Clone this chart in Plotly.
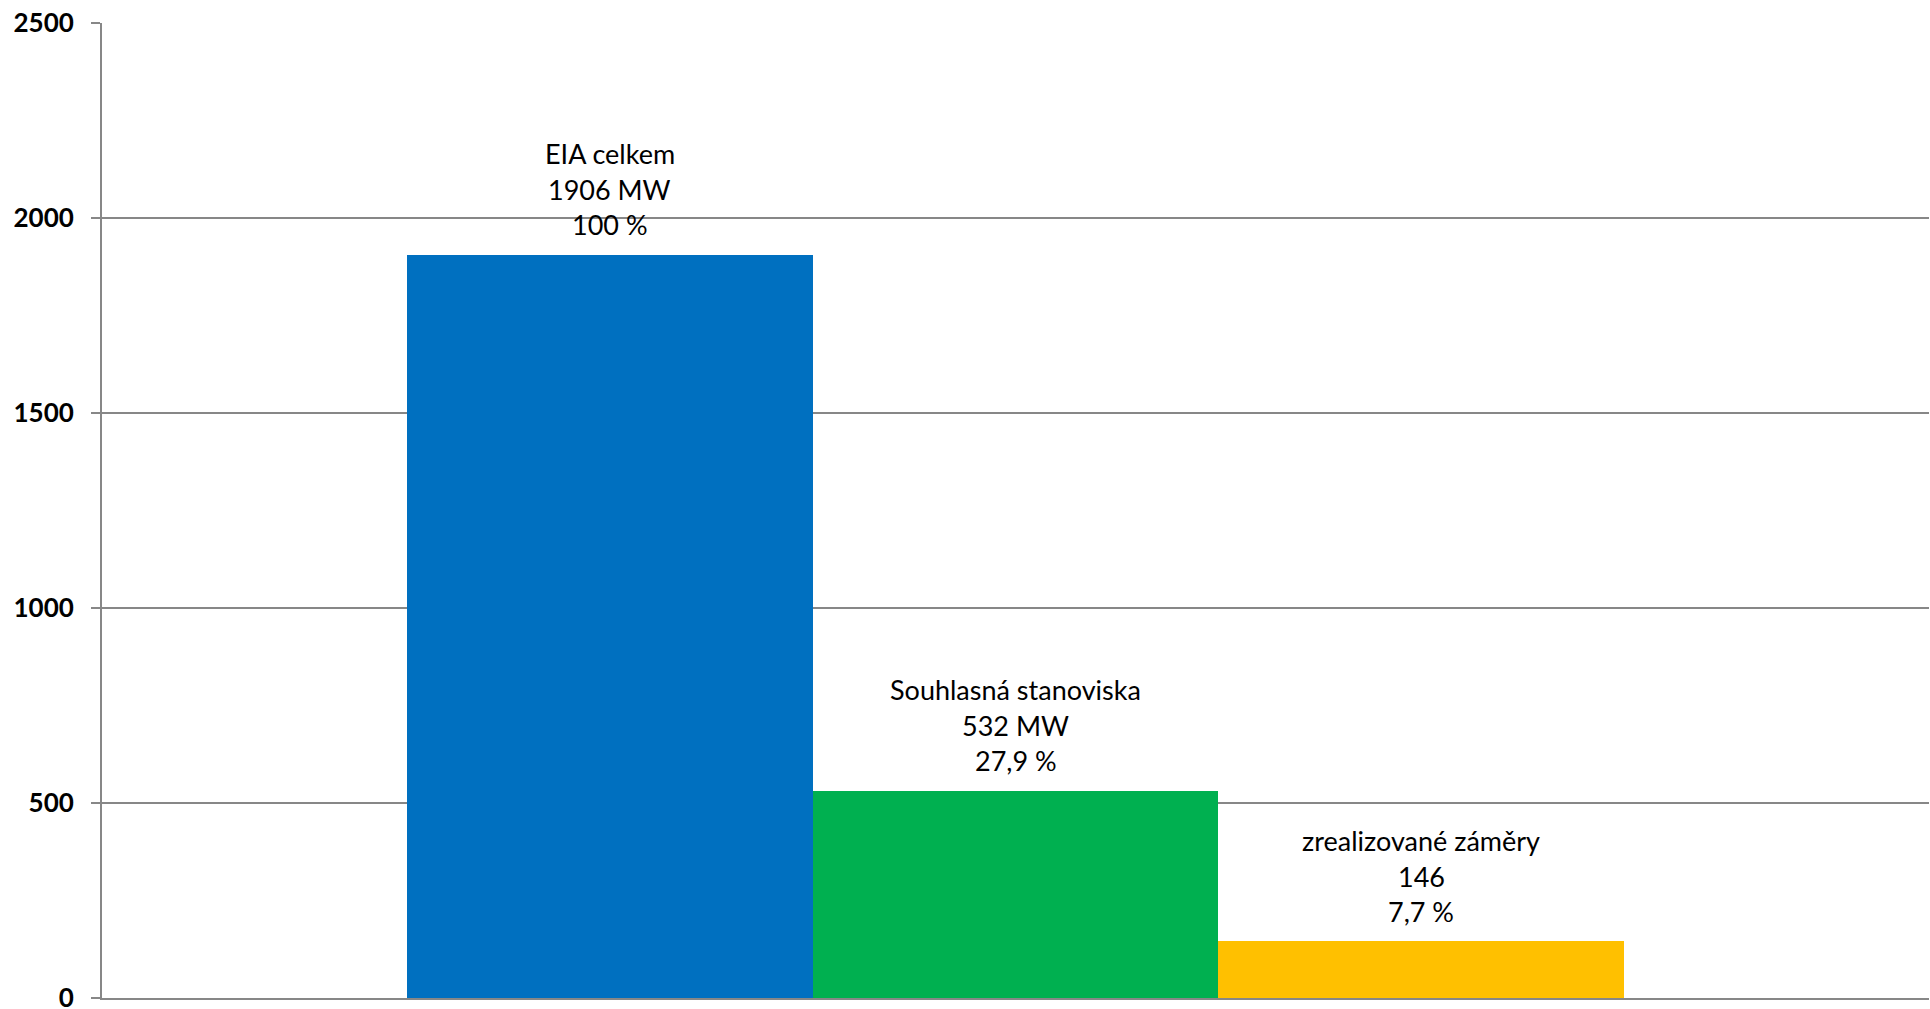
import plotly.graph_objects as go

# Installed capacity (MW) at each stage of the EIA process
categories = ["EIA celkem", "Souhlasná stanoviska", "zrealizované záměry"]
capacity_mw = [1906, 532, 146]
value_labels = ["1906 MW", "532 MW", "146"]
share_labels = ["100 %", "27,9 %", "7,7 %"]
bar_colors = ["#0070C0", "#00B050", "#FFC000"]

y_ticks = [0, 500, 1000, 1500, 2000, 2500]

GRID = "#878787"
LABEL_FONT = dict(family="Lato", size=27, color="#000000")

fig = go.Figure()
fig.add_trace(
    go.Bar(
        x=categories,
        y=capacity_mw,
        marker=dict(color=bar_colors, line=dict(width=0)),
        width=1.0,
        hoverinfo="x+y",
        showlegend=False,
    )
)

# Three-line data labels stacked above each bar
line_offsets = [101, 65, 30]
for cat, val, vlab, slab in zip(categories, capacity_mw, value_labels, share_labels):
    for text, off in zip([cat, vlab, slab], line_offsets):
        fig.add_annotation(
            x=cat,
            y=val,
            xref="x",
            yref="y",
            text=text,
            showarrow=False,
            xanchor="center",
            yanchor="middle",
            yshift=off,
            font=LABEL_FONT,
        )

fig.update_layout(
    width=1930,
    height=1009,
    margin=dict(l=102, r=1, t=23, b=11, autoexpand=False),
    paper_bgcolor="#FFFFFF",
    plot_bgcolor="#FFFFFF",
    bargap=0,
)

fig.update_xaxes(
    range=[-1.251, 3.251],
    showticklabels=False,
    ticks="",
    showgrid=False,
    zeroline=False,
    showline=True,
    linecolor=GRID,
    linewidth=2,
    automargin=False,
)

fig.update_yaxes(
    range=[0, 2500],
    tickvals=y_ticks,
    ticktext=[f"<b>{v}</b>" for v in y_ticks],
    tickfont=dict(family="Lato", size=26, color="#000000"),
    ticks="outside",
    ticklen=9,
    tickwidth=2,
    tickcolor=GRID,
    ticklabelstandoff=12,
    ticklabeloverflow="allow",
    automargin=False,
    showgrid=True,
    gridcolor=GRID,
    gridwidth=2,
    zeroline=False,
    showline=True,
    linecolor=GRID,
    linewidth=2,
)

fig.write_html("out.html")
